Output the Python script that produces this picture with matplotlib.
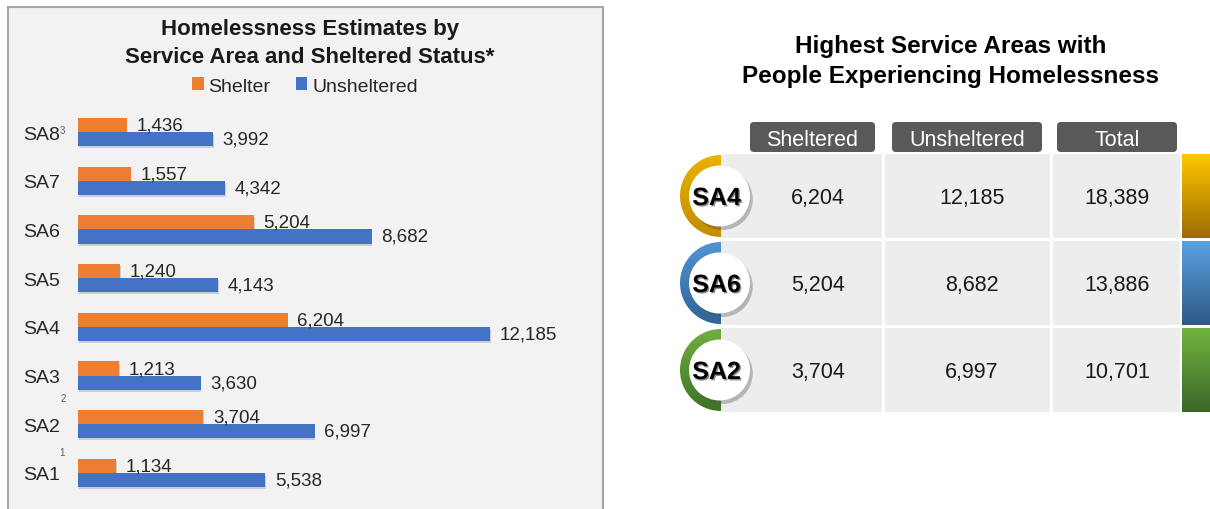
import numpy as np
import matplotlib.pyplot as plt
import matplotlib.colors as mcolors
import matplotlib.patheffects as pe
from matplotlib.patches import Rectangle, FancyBboxPatch, Circle, Wedge

plt.rcParams["font.family"] = ["Liberation Sans", "DejaVu Sans"]

# left chart data (bottom to top)
areas = ["SA1", "SA2", "SA3", "SA4", "SA5", "SA6", "SA7", "SA8"]
shelter = [1134, 3704, 1213, 6204, 1240, 5204, 1557, 1436]
unsheltered = [5538, 6997, 3630, 12185, 4143, 8682, 4342, 3992]

# right table data
top_areas = ["SA4", "SA6", "SA2"]
top_sheltered = [6204, 5204, 3704]
top_unsheltered = [12185, 8682, 6997]
top_total = [18389, 13886, 10701]
table_headers = ["Sheltered", "Unsheltered", "Total"]

W, H = 1210, 510
fig = plt.figure(figsize=(W / 100, H / 100), dpi=100)
bg = fig.add_axes([0, 0, 1, 1])
bg.axis("off")


def px_rect(x0, y0, x1, y1):
    return [x0 / W, 1 - y1 / H, (x1 - x0) / W, (y1 - y0) / H]


def gradient_fill(patch, top, bottom, x0, x1, y0, y1, z):
    patch.set_facecolor("none")
    patch.set_edgecolor("none")
    bg.add_patch(patch)
    t = np.linspace(0, 1, 256)[:, None, None]
    img = np.array(mcolors.to_rgb(top)) * (1 - t) + np.array(mcolors.to_rgb(bottom)) * t
    im = bg.imshow(img, extent=(x0, x1, y1, y0), origin="upper", aspect="auto",
                   interpolation="bilinear", zorder=z)
    im.set_clip_path(patch)


# ---- left panel ----
bg.add_patch(Rectangle((8, 8), 595, 520, facecolor="#F2F2F2", edgecolor="#A6A6A6", lw=1.5, zorder=0))
bg.text(310, 35, "Homelessness Estimates by", ha="center", va="baseline", fontsize=16, fontweight="bold", color="#1A1A1A")
bg.text(310, 63, "Service Area and Sheltered Status*", ha="center", va="baseline", fontsize=16, fontweight="bold", color="#1A1A1A")

ax = fig.add_axes(px_rect(78, 108.65, 600, 498.35))
ax.set_facecolor("none")
y = np.arange(len(areas))
h = 0.29
b1 = ax.barh(y + h / 2, shelter, height=h, color="#ED7D31", label="Shelter")
b2 = ax.barh(y - h / 2, unsheltered, height=h, color="#4472C4", label="Unsheltered")
ax.bar_label(b1, labels=[f"{v:,}" for v in shelter], padding=7, fontsize=13.5, color="#262626")
ax.bar_label(b2, labels=[f"{v:,}" for v in unsheltered], padding=7, fontsize=13.5, color="#262626")
ax.set_xlim(0, 522 / 0.033812)
ax.set_ylim(-0.5, 7.5)
ax.set_yticks(y, areas, fontsize=14, color="#262626")
ax.set_xticks([])
ax.tick_params(axis="y", length=0, pad=13)
for s in ax.spines.values():
    s.set_visible(False)

fig.legend(handles=[b1, b2], loc="center", bbox_to_anchor=(305 / W, 1 - 87 / H), ncol=2, frameon=False,
           fontsize=14, handlelength=0.6, handleheight=0.6, handletextpad=0.25, columnspacing=1.3,
           labelcolor="#262626")

# soft drop shadow under the bars (after the legend so the keys stay flat)
shadow = [pe.SimplePatchShadow(offset=(0.5, -1.5), alpha=0.18), pe.Normal()]
for bar in list(b1) + list(b2):
    bar.set_path_effects(shadow)

# footnote markers
for lx, ly, mark in [(62, 131, "3"), (63, 399, "2"), (62, 453, "1")]:
    bg.text(lx, ly, mark, fontsize=7, color="#595959", ha="center", va="center")

# ---- right table ----
bg.text(951, 52.7, "Highest Service Areas with", ha="center", va="baseline", fontsize=17.5, fontweight="bold")
bg.text(951, 83, "People Experiencing Homelessness", ha="center", va="baseline", fontsize=17.5, fontweight="bold")

header_boxes = [(750, 875), (892, 1042), (1057, 1177)]
for (x0, x1), label in zip(header_boxes, table_headers):
    bg.add_patch(FancyBboxPatch((x0, 123), x1 - x0, 30, boxstyle="round,pad=0,rounding_size=4",
                                fc="#595959", ec="none", zorder=1))
    bg.text((x0 + x1) / 2, 146.5, label, color="white", fontsize=15.5, ha="center", va="baseline", zorder=2)

cols = [(721, 882), (885, 1050), (1053, 1180)]
text_x = [818, 972, 1117]
ring_colors = [("#EAB200", "#C48C00"), ("#4F95D2", "#2F6396"), ("#70B040", "#3E7227")]
bar_colors = [("#FFC800", "#9C6A00"), ("#5BA2E2", "#2D5A86"), ("#70B53F", "#3A6727")]

for i, name in enumerate(top_areas):
    top = 155 + i * 87
    bot = top + 84
    cy = (top + bot) / 2
    for (x0, x1) in cols:
        bg.add_patch(Rectangle((x0, top), x1 - x0, bot - top, fc="#EDEDED", ec="none", zorder=1))
    vals = [top_sheltered[i], top_unsheltered[i], top_total[i]]
    for tx, v in zip(text_x, vals):
        bg.text(tx, cy + 7.5, f"{v:,}", ha="center", va="baseline", fontsize=15.5, color="#1A1A1A", zorder=3)
    # side colour bar
    gradient_fill(Rectangle((1182, top), 40, bot - top), bar_colors[i][0], bar_colors[i][1],
                  1182, 1222, top, bot, 2)
    # half ring
    gradient_fill(Wedge((721, cy), 41, 90, 270), ring_colors[i][0], ring_colors[i][1],
                  680, 721, cy - 41, cy + 41, 2)
    circ = Circle((719.5, cy), 30.5, fc="white", ec="none", zorder=4)
    circ.set_path_effects([pe.SimplePatchShadow(offset=(2, -2.5), alpha=0.35), pe.Normal()])
    bg.add_patch(circ)
    bg.text(716.5, cy + 9, name, ha="center", va="baseline", fontsize=18, fontweight="bold", color="black",
            zorder=5, path_effects=[pe.withSimplePatchShadow(offset=(1, -1), alpha=0.45)])

bg.set_xlim(0, W)
bg.set_ylim(H, 0)

fig.savefig("out.png", dpi=100, facecolor="white")
